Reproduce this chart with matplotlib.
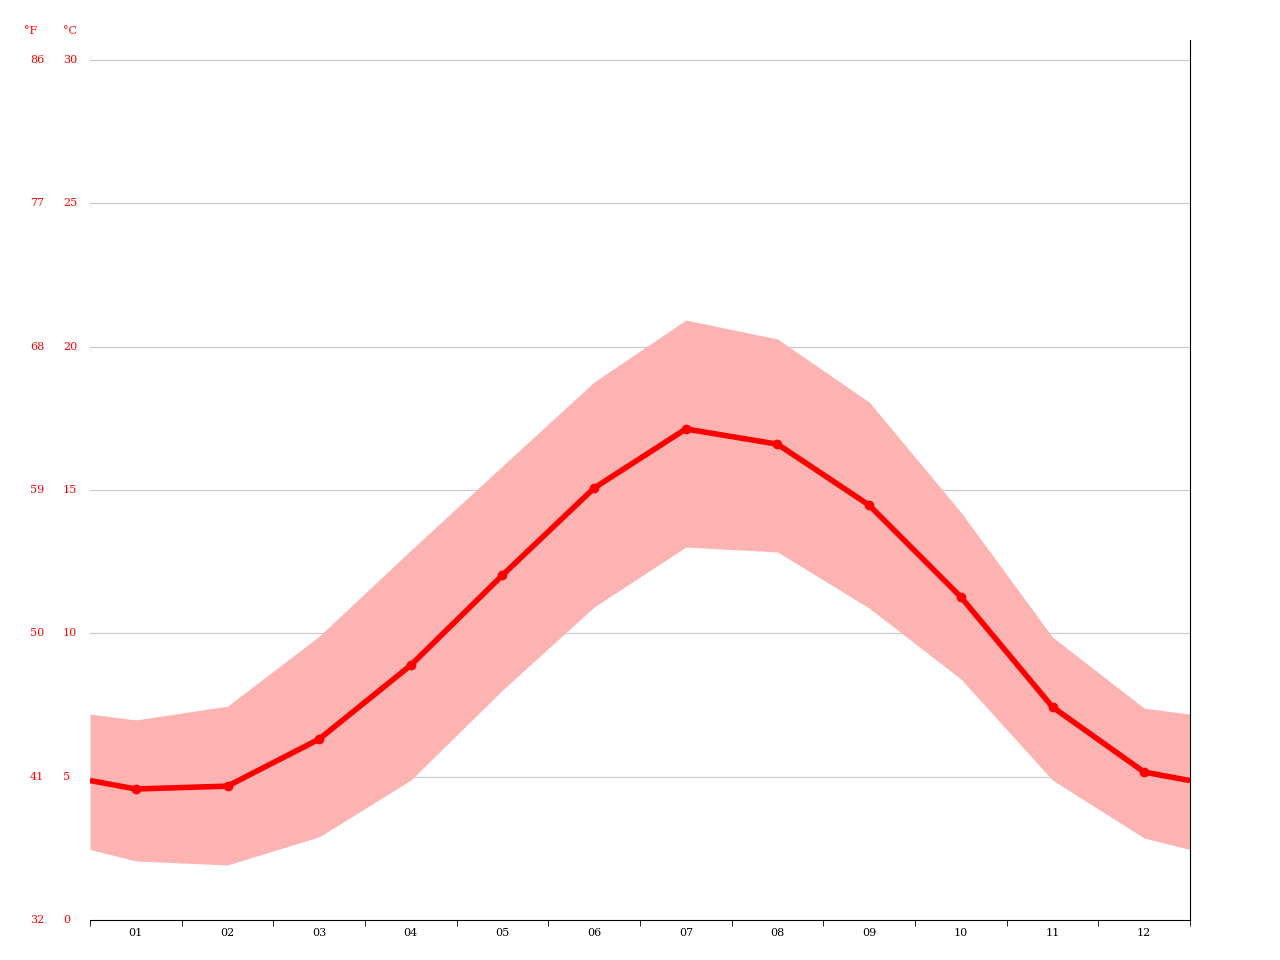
import matplotlib
matplotlib.use("Agg")
import matplotlib.pyplot as plt
import numpy as np

months = ["01", "02", "03", "04", "05", "06", "07", "08", "09", "10", "11", "12"]
t_mean = [4.57, 4.67, 6.31, 8.89, 12.03, 15.07, 17.13, 16.6, 14.47, 11.27, 7.43, 5.16]
t_max = [6.98, 7.46, 9.9, 12.9, 15.84, 18.77, 20.93, 20.27, 18.07, 14.23, 9.87, 7.39]
t_min = [2.06, 1.92, 2.9, 4.88, 8.02, 10.92, 13.01, 12.84, 10.88, 8.41, 4.88, 2.86]
c_ticks = [0, 5, 10, 15, 20, 25, 30]


def wrap(vals):
    # edge value is halfway between Dec and Jan
    edge = (vals[0] + vals[-1]) / 2
    return [edge] + list(vals) + [edge]


x = np.arange(len(months)) + 0.5
xw = np.concatenate([[0], x, [len(months)]])

fig = plt.figure(figsize=(12.8, 9.6), dpi=100)
ax = fig.add_axes([90 / 1280, 40 / 960, 1100 / 1280, 880 / 960])

ax.fill_between(xw, wrap(t_min), wrap(t_max), color="#feb3b3", linewidth=0)
ax.plot(xw, wrap(t_mean), color="#ff0000", linewidth=4, solid_capstyle="butt")
ax.plot(x, t_mean, "o", color="#ff0000", markersize=6)

ax.set_xlim(0, 12)
ax.set_ylim(0, 30.7)
for c in c_ticks[1:]:
    ax.axhline(c, color="#c8c8c8", linewidth=0.8, zorder=0)

ax.set_xticks(x)
ax.set_xticklabels(months, family="DejaVu Serif", fontsize=8)
ax.set_xticks(np.arange(0, 13), minor=True)
ax.tick_params(axis="x", which="major", length=0, pad=6)
ax.tick_params(axis="x", which="minor", length=4, color="black")
ax.set_yticks([])

for s in ["top", "left"]:
    ax.spines[s].set_visible(False)
ax.spines["bottom"].set_color("black")
ax.spines["right"].set_color("black")

tr = ax.get_yaxis_transform()
for c in c_ticks:
    f = round(c * 9 / 5 + 32)
    ax.text(-60 / 1100, c, str(f), transform=tr, color="red", fontsize=8,
            family="DejaVu Serif", ha="left", va="center", clip_on=False)
    ax.text(-27 / 1100, c, str(c), transform=tr, color="red", fontsize=8,
            family="DejaVu Serif", ha="left", va="center", clip_on=False)
ax.text(-66 / 1100, 30.1 + 0.0 + 0.9, "°F", transform=tr, color="red", fontsize=8,
        family="DejaVu Serif", ha="left", va="center", clip_on=False)
ax.text(-27 / 1100, 30.1 + 0.9, "°C", transform=tr, color="red", fontsize=8,
        family="DejaVu Serif", ha="left", va="center", clip_on=False)

fig.savefig("out.png", dpi=100)
